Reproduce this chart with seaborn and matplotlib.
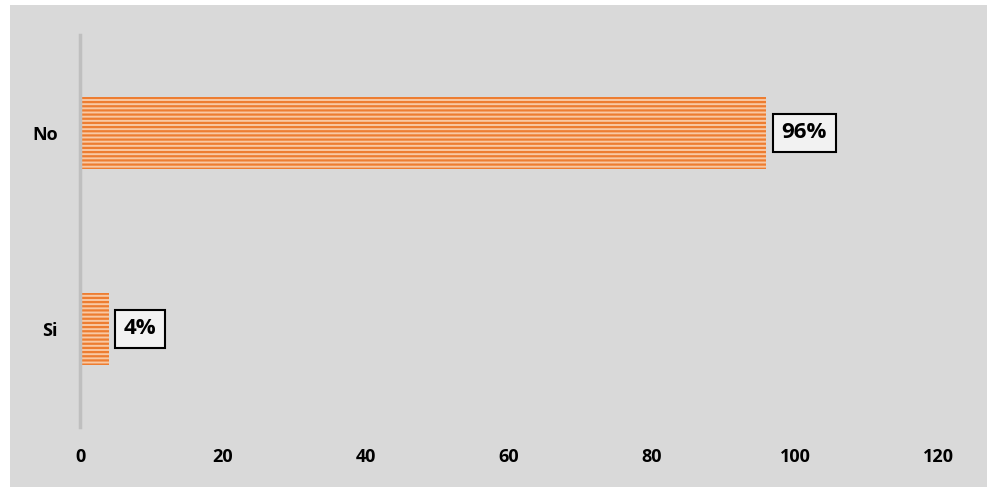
import matplotlib
matplotlib.use("Agg")
import matplotlib.pyplot as plt
import seaborn as sns
import pandas as pd
from matplotlib.patches import Rectangle

categories = ["No", "Si"]
values = [96, 4]
labels = ["96%", "4%"]
xticks = [0, 20, 40, 60, 80, 100, 120]

sns.set_theme(style="white")
plt.rcParams['font.family'] = ['Open Sans', 'DejaVu Sans']
plt.rcParams['hatch.linewidth'] = 1.6

df = pd.DataFrame({"cat": categories, "val": values})

fig = plt.figure(figsize=(9.9, 4.87), dpi=100)
fig.patch.set_facecolor("white")
fig.patches.append(Rectangle((10/990, 0), 977/990, 482/487, transform=fig.transFigure,
                             facecolor="#d9d9d9", edgecolor="none", zorder=-10))
ax = fig.add_axes([80/990, 60/487, 858/990, 392/487])
ax.set_facecolor("none")

sns.barplot(data=df, x="val", y="cat", orient="h", width=0.37, ax=ax,
            color="#f9c9a4", edgecolor="#ed7d31", linewidth=0, saturation=1)
for p in ax.patches:
    p.set_hatch("----")
    p.set_edgecolor("#ed7d31")
    p.set_linewidth(0)

for i, (v, lab) in enumerate(zip(values, labels)):
    ax.annotate(lab, xy=(v, i), xytext=(11, 0), textcoords="offset points",
                ha="left", va="center", fontsize=16, fontweight="bold", color="black",
                bbox=dict(boxstyle="square,pad=0.4", facecolor="#f2f2f2", edgecolor="black", linewidth=1.5))

ax.set_xlim(0, 120)
ax.set_ylim(1.5, -0.5)
ax.set_xticks(xticks)
ax.set_xticklabels([str(t) for t in xticks], fontsize=13, fontweight="bold", color="black")
ax.set_yticks(range(len(categories)))
ax.set_yticklabels(categories, fontsize=13, fontweight="bold", color="black")
ax.tick_params(axis="x", length=0, pad=15)
ax.tick_params(axis="y", length=0, pad=16)
ax.set_xlabel("")
ax.set_ylabel("")
for s in ["top", "right", "bottom"]:
    ax.spines[s].set_visible(False)
ax.spines["left"].set_color("#bfbfbf")
ax.spines["left"].set_linewidth(2.5)

fig.savefig("out.png", dpi=100)
